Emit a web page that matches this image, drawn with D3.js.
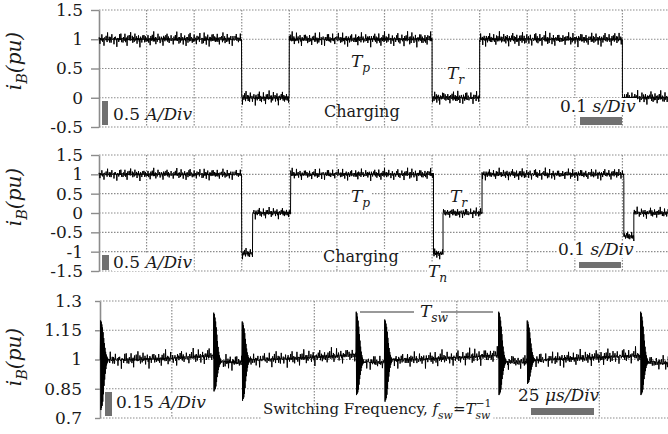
<!DOCTYPE html>
<html>
<head>
<meta charset="utf-8">
<script src="https://cdn.jsdelivr.net/npm/d3@7"></script>
<style>
  body { margin: 0; background: #fff; }
  svg { display: block; }
  text { font-family: "DejaVu Serif", "Liberation Serif", serif; fill: #1a1a1a; }
</style>
</head>
<body>
<svg id="chart" width="668" height="434"></svg>
<script>
// charging current, panel 1 (times in s, levels in pu)
var p1Edges = [0, 0.30, 0.40, 0.70, 0.80, 1.10, 1.20];
var p1Levels = [1, 0, 1, 0, 1, 0];
// panel 2, with the negative pulses T_n
var p2Edges = [0, 0.300, 0.323, 0.403, 0.703, 0.723, 0.805, 1.103, 1.124, 1.20];
var p2Levels = [1, -1.05, 0, 1, -1.05, 0, 1, -0.6, 0];

var p1Ticks = [-0.5, 0, 0.5, 1, 1.5];
var p2Ticks = [-1.5, -1, -0.5, 0, 0.5, 1, 1.5];
var p3Ticks = [0.7, 0.85, 1, 1.15, 1.3];
var p3TickLabels = ["0.7", "0.85", "1", "1.15", "1.3"];
var timeGrid = [0.1, 0.2, 0.3, 0.4, 0.5, 0.6, 0.7, 0.8, 0.9, 1.0, 1.1];
var swGrid = [0, 25, 50, 75];

// panel 3 (times in us): slow drift of the ripple between switching events
var swBaseT = [-12.6, -8, 0, 7.2, 7.4, 12.2, 12.5, 20, 28, 32.2, 32.5, 37.2, 37.5, 45, 53, 57.2, 57.5, 62.2, 62.5, 70, 78, 82.1, 82.4, 87.4];
var swBaseV = [1.0, 0.998, 1.006, 1.02, 0.99, 0.985, 0.996, 1.004, 1.016, 1.025, 0.99, 0.984, 0.996, 1.002, 1.014, 1.022, 0.99, 0.985, 0.996, 1.004, 1.015, 1.02, 0.99, 0.978];
// switching spikes: time, peak high, peak low
var spikeT = [-12.55, 7.3, 12.3, 32.3, 37.3, 57.3, 62.3, 82.2];
var spikeTop = [1.20, 1.24, 1.195, 1.245, 1.205, 1.245, 1.20, 1.245];
var spikeBottom = [0.73, 0.83, 0.78, 0.81, 0.775, 0.81, 0.87, 0.81];
var ringShape = [0, 1, -0.96, 0.97, -0.92, 0.9, -0.88, 0.82, -0.8, 0.7, -0.66, 0.55, -0.5, 0.42, -0.38, 0.3, -0.27, 0.2, -0.18, 0.13, -0.11, 0.08, -0.07, 0.05, -0.04, 0.02, 0];

// measurement noise read as a texture off the scope traces
var jitter = [0.3, -0.5, 0.8, -0.2, -0.9, 0.4, 0.1, -0.6, 0.7, -0.3, 0.5, -0.8, 0.2, 0.9, -0.4, -0.1, 0.6, -0.7, 0.3, -0.2, 0.8, -0.5, 0.0, 0.4, -0.9, 0.6, -0.3, 0.2, -0.6, 0.9, -0.1, 0.5, -0.8, 0.3, -0.4, 0.7, -0.2];
var bursts = [0, 2, 0, 0, -3, 0, 1, 0, 0, 0, -1.5, 0, 4, 0, 0, -2, 0, 0, 0, 1, 0, -5, 0, 0, 2.5, 0, 0, -1, 0, 0, 3, 0, 0, 0, -2, 0, 6, 0, 0, -1, 0, 0, 0, 2, 0, -3.5, 0, 1.5, 0, 0, 0, -2.5, 0, 0, 5, 0, 0, -1, 0, 0, 0, 2, 0, -4, 0, 0, 1, 0, 0, 3, 0, 0, -1.5, 0, 0, -6, 0, 0, 2, 0, 0, 1, 0, -2, 0, 0, 0, 3.5, 0, 0, -1, 0, 4.5, 0, 0, -2, 0];

var svg = d3.select("#chart");
var grey = "#8c8c8c";
var serif = '"DejaVu Serif", "Liberation Serif", serif';

function noise(i) {
  return jitter[i % jitter.length] + bursts[i % bursts.length];
}

function stepTrace(edges, levels, dt, amp) {
  var pts = [], i = 0;
  for (var k = 0; k < levels.length; k++) {
    for (var t = edges[k]; t < edges[k + 1]; t += dt) {
      pts.push([t, levels[k] + amp * noise(i++)]);
    }
  }
  pts.push([edges[edges.length - 1], levels[levels.length - 1]]);
  return pts;
}

function switchingTrace() {
  var base = d3.scaleLinear().domain(swBaseT).range(swBaseV);
  var ringDt = 0.055, ringLen = ringShape.length * ringDt;
  var pts = [], i = 0;
  for (var t = -12.6; t <= 87.4; t += 0.05) {
    var inRing = spikeT.some(function (s) { return t >= s && t < s + ringLen; });
    if (!inRing) pts.push([t, base(t) + 0.007 * noise(i)]);
    i++;
  }
  spikeT.forEach(function (s, k) {
    ringShape.forEach(function (r, j) {
      var t = s + j * ringDt, b = base(t);
      pts.push([t, b + (r > 0 ? r * (spikeTop[k] - b) : r * (b - spikeBottom[k]))]);
    });
  });
  pts.sort(function (a, b) { return a[0] - b[0]; });
  return pts;
}

function panel(opt) {
  var g = svg.append("g");
  var x = d3.scaleLinear().domain(opt.xDomain).range([opt.x0, 670]);
  var y = d3.scaleLinear().domain(d3.extent(opt.yTicks)).range([opt.yBottom, opt.yTop]);

  g.append("g").selectAll("line").data(opt.yTicks).join("line")
    .attr("x1", opt.x0).attr("x2", 668)
    .attr("y1", function (d) { return y(d); }).attr("y2", function (d) { return y(d); })
    .attr("stroke", grey).attr("stroke-width", 1.2).attr("stroke-dasharray", "1.5,1.5");
  g.append("g").selectAll("line").data(opt.xGrid).join("line")
    .attr("x1", function (d) { return x(d); }).attr("x2", function (d) { return x(d); })
    .attr("y1", opt.yTop).attr("y2", opt.yBottom)
    .attr("stroke", grey).attr("stroke-width", 1.2).attr("stroke-dasharray", "1.5,1.5");

  var axis = d3.axisLeft(y).tickValues(opt.yTicks).tickSize(opt.tickSize)
    .tickSizeOuter(0).tickPadding(opt.tickPad)
    .tickFormat(function (d, i) { return opt.tickLabels ? opt.tickLabels[i] : String(d); });
  var ax = g.append("g").attr("transform", "translate(" + opt.x0 + ",0)").call(axis);
  ax.attr("font-family", null).attr("font-size", null);
  ax.select(".domain").attr("stroke", grey).attr("stroke-width", 1.6);
  ax.selectAll(".tick line").attr("stroke", grey).attr("stroke-width", 1.4);
  ax.selectAll(".tick text").style("font-size", "17px").style("font-family", serif).attr("fill", "#222");

  g.append("path").datum(opt.data)
    .attr("fill", "none").attr("stroke", "#000").attr("stroke-width", 1)
    .attr("d", d3.line().x(function (d) { return x(d[0]); }).y(function (d) { return y(d[1]); }));

  var yl = g.append("text").attr("transform", "translate(21," + opt.labelY + ") rotate(-90)")
    .attr("text-anchor", "middle").style("font-size", "20px");
  writeParts(yl, [{ t: "i", it: true }, { t: "B", it: true, sub: true }, { t: "(pu)", it: true }], 20);
  return g;
}

function writeParts(text, parts, size) {
  var shift = 0;
  parts.forEach(function (p) {
    var want = p.sub ? size * 0.3 : p.sup ? -size * 0.42 : 0;
    var ts = text.append("tspan").attr("dy", want - shift)
      .style("font-style", p.it ? "italic" : "normal")
      .text(p.t);
    if (p.sub || p.sup) ts.style("font-size", (size * 0.72) + "px");
    if (p.back) ts.attr("dx", -p.back);
    shift = want;
    p.node = ts.node();
  });
}

function label(g, x, y, parts, size, bg) {
  var t = g.append("text").attr("x", x).attr("y", y).style("font-size", size + "px");
  writeParts(t, parts, size);
  if (bg) {
    var b = t.node().getBBox();
    g.insert("rect", function () { return t.node(); })
      .attr("x", b.x - 1).attr("y", b.y + 2).attr("width", b.width + 2).attr("height", b.height - 3)
      .attr("fill", "#fff");
  }
  return t;
}

function bar(g, x, y, w, h) {
  g.append("rect").attr("x", x).attr("y", y).attr("width", w).attr("height", h).attr("fill", "#707070");
}

// panel 1
var g1 = panel({
  xDomain: [0, 1.2], x0: 99, yTicks: p1Ticks, yTop: 10, yBottom: 127, xGrid: timeGrid,
  tickSize: 8, tickPad: 8, labelY: 61, data: stepTrace(p1Edges, p1Levels, 0.0005, 0.02)
});
label(g1, 351, 67, [{ t: "T", it: true }, { t: "p", it: true, sub: true }], 17, true);
label(g1, 447, 79, [{ t: "T", it: true }, { t: "r", it: true, sub: true }], 17, true);
label(g1, 324, 117, [{ t: "Charging" }], 16, false);
bar(g1, 102, 101, 6, 24);
label(g1, 113, 120, [{ t: "0.5 " }, { t: "A/Div", it: true }], 17, false);
label(g1, 560, 112, [{ t: "0.1 " }, { t: "s/Div", it: true }], 17, true);
bar(g1, 580, 117, 42, 8);

// panel 2
var g2 = panel({
  xDomain: [0, 1.2], x0: 99, yTicks: p2Ticks, yTop: 155, yBottom: 271, xGrid: timeGrid,
  tickSize: 8, tickPad: 8, labelY: 197, data: stepTrace(p2Edges, p2Levels, 0.0005, 0.025)
});
label(g2, 351, 202, [{ t: "T", it: true }, { t: "p", it: true, sub: true }], 17, true);
label(g2, 450, 202, [{ t: "T", it: true }, { t: "r", it: true, sub: true }], 17, true);
label(g2, 323, 262, [{ t: "Charging" }], 16, true);
label(g2, 428, 277, [{ t: "T", it: true }, { t: "n", it: true, sub: true }], 17, true);
bar(g2, 102, 255, 7, 15);
label(g2, 113, 268, [{ t: "0.5 " }, { t: "A/Div", it: true }], 17, true);
label(g2, 558, 255, [{ t: "0.1 " }, { t: "s/Div", it: true }], 17, true);
bar(g2, 579, 262, 42, 6);

// panel 3
var g3 = panel({
  xDomain: [-12.6, 87.4], x0: 100, yTicks: p3Ticks, tickLabels: p3TickLabels, yTop: 301, yBottom: 418,
  xGrid: swGrid, tickSize: 5, tickPad: 13, labelY: 357, data: switchingTrace()
});
bar(g3, 105, 392, 7, 24);
label(g3, 116, 408, [{ t: "0.15 " }, { t: "A/Div", it: true }], 17, true);
var swParts = [{ t: "Switching Frequency, " }, { t: "f", it: true }, { t: "sw", it: true, sub: true },
  { t: "=" }, { t: "T", it: true }, { t: "sw", it: true, sub: true }];
var swText = label(g3, 263, 414, swParts, 15, false);
var swLen = swParts[5].node.getComputedTextLength();
writeParts(swText, [{ t: "−1", sup: true, back: swLen }], 15);
swText.select("tspan:last-child").attr("dy", -15 * 0.5 - 15 * 0.3);
var sb = swText.node().getBBox();
g3.insert("rect", function () { return swText.node(); })
  .attr("x", sb.x - 2).attr("y", 410).attr("width", sb.width + 4).attr("height", 12).attr("fill", "#fff");
label(g3, 518, 401, [{ t: "25 " }, { t: "μs/Div", it: true }], 17, false);
bar(g3, 531, 408, 63, 7);
g3.append("line").attr("x1", 360).attr("x2", 414).attr("y1", 312).attr("y2", 312).attr("stroke", "#777").attr("stroke-width", 1.4);
g3.append("line").attr("x1", 441).attr("x2", 493).attr("y1", 312).attr("y2", 312).attr("stroke", "#777").attr("stroke-width", 1.4);
label(g3, 420, 317, [{ t: "T", it: true }, { t: "sw", it: true, sub: true }], 17, false);
</script>
</body>
</html>
